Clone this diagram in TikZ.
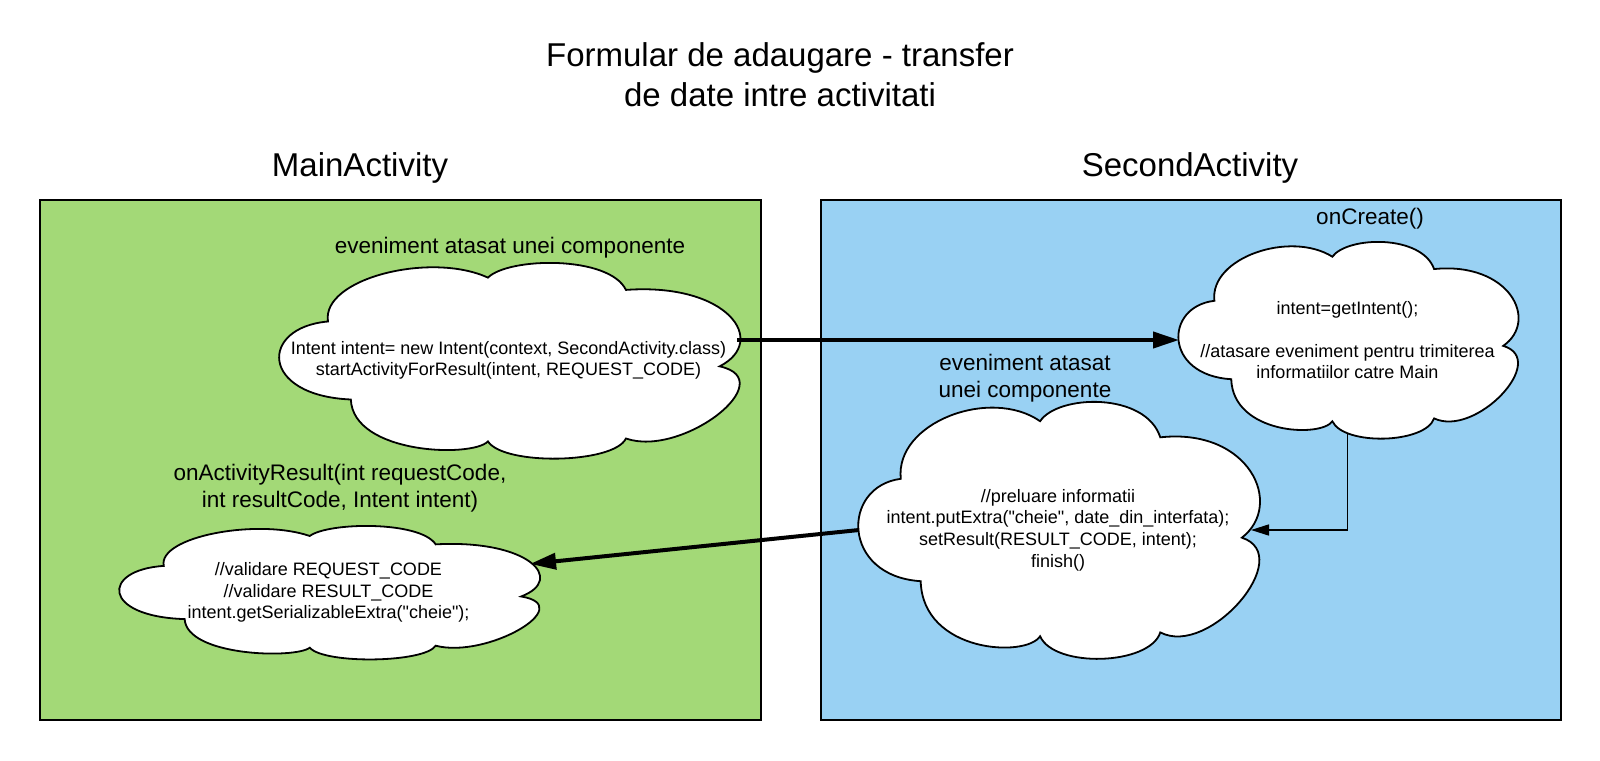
\documentclass[tikz,border=0pt]{standalone}
\usepackage{fontspec}
\setmainfont{Liberation Sans}
\usetikzlibrary{arrows.meta}
\definecolor{maingreen}{HTML}{A3D977}
\definecolor{secondblue}{HTML}{99D1F3}

% cloud outline with seven puffs, sized by the node box
\makeatletter
\newdimen\cldx \newdimen\cldy \newdimen\cldw \newdimen\cldh
\def\cldpt#1#2{\pgfpoint{\cldx+(#1)*\cldw}{\cldy+(1-(#2))*\cldh}}
\pgfdeclareshape{puffcloud}{
  \inheritsavedanchors[from=rectangle]
  \inheritanchorborder[from=rectangle]
  \inheritanchor[from=rectangle]{center}
  \inheritanchor[from=rectangle]{north}
  \inheritanchor[from=rectangle]{south}
  \inheritanchor[from=rectangle]{east}
  \inheritanchor[from=rectangle]{west}
  \inheritanchor[from=rectangle]{north east}
  \inheritanchor[from=rectangle]{north west}
  \inheritanchor[from=rectangle]{south east}
  \inheritanchor[from=rectangle]{south west}
  \backgroundpath{%
    \southwest \cldx=\pgf@x \cldy=\pgf@y
    \northeast \cldw=\pgf@x \cldh=\pgf@y
    \advance\cldw by -\cldx
    \advance\cldh by -\cldy
    \pgfpathmoveto{\cldpt{0.155}{0.70}}
    \pgfpathcurveto{\cldpt{-0.045}{0.68}}{\cldpt{-0.045}{0.33}}{\cldpt{0.105}{0.30}}
    \pgfpathcurveto{\cldpt{0.09}{0.08}}{\cldpt{0.33}{-0.06}}{\cldpt{0.455}{0.075}}
    \pgfpathcurveto{\cldpt{0.50}{-0.03}}{\cldpt{0.72}{-0.04}}{\cldpt{0.757}{0.138}}
    \pgfpathcurveto{\cldpt{0.98}{0.10}}{\cldpt{1.07}{0.40}}{\cldpt{0.962}{0.53}}
    \pgfpathcurveto{\cldpt{1.10}{0.60}}{\cldpt{0.88}{1.00}}{\cldpt{0.757}{0.90}}
    \pgfpathcurveto{\cldpt{0.73}{1.03}}{\cldpt{0.49}{1.04}}{\cldpt{0.455}{0.915}}
    \pgfpathcurveto{\cldpt{0.42}{1.00}}{\cldpt{0.16}{0.98}}{\cldpt{0.155}{0.70}}
    \pgfpathclose
  }
}
\makeatother

\begin{document}
\begin{tikzpicture}[x=1pt,y=-1pt,
    actbox/.style={draw, line width=2pt, anchor=north west, inner sep=0pt},
    puffbox/.style={shape=puffcloud, draw, line width=1.8pt, fill=white, outer sep=0pt,
        inner sep=0pt, align=center, font=\fontsize{18}{21.6}\selectfont},
    bigtitle/.style={font=\fontsize{33}{40}\selectfont, align=center},
    sublabel/.style={font=\fontsize{22.5}{27.5}\selectfont, align=center},
    thickarrow/.style={line width=4pt, -{Triangle[length=26pt,width=16pt]}},
    thinarrow/.style={line width=1.6pt, -{Triangle[length=18pt,width=11pt]}}]
    \useasboundingbox (0,0) rectangle (1600,760);

    % Title
    \node[bigtitle] (title) at (780,75) {Formular de adaugare - transfer\\de date intre activitati};

    % The two activities
    \node[actbox, fill=maingreen, minimum width=721pt, minimum height=520pt] (mainbox) at (39,199) {};
    \node[actbox, fill=secondblue, minimum width=740pt, minimum height=520pt] (secondbox) at (820,199) {};
    \node[bigtitle] (mainlabel) at (360,168) {MainActivity};
    \node[bigtitle] (secondlabel) at (1190,168) {SecondActivity};

    % MainActivity side
    \node[sublabel] (evlabel) at (510,248) {eveniment atasat unei componente};
    \node[puffbox, minimum width=457pt, minimum height=195pt] (cintent) at (508.5,360.5)
        {Intent intent= new Intent(context, SecondActivity.class)\\startActivityForResult(intent, REQUEST\_CODE)};
    \node[sublabel] (resultlabel) at (340,488) {onActivityResult(int requestCode,\\int resultCode, Intent intent)};
    \node[puffbox, minimum width=417pt, minimum height=133pt] (cresult) at (328.5,592.5)
        {//validare REQUEST\_CODE\\//validare RESULT\_CODE\\intent.getSerializableExtra(\textquotedbl cheie\textquotedbl);};

    % SecondActivity side
    \node[sublabel] (createlabel) at (1370,219) {onCreate()};
    \node[puffbox, minimum width=337pt, minimum height=196pt] (ccreate) at (1347.5,340)
        {intent=getIntent();\\ \\//atasare eveniment pentru trimiterea\\informatiilor catre Main};
    \node[sublabel] (ev2label) at (1025,378) {eveniment atasat\\unei componente};
    \node[puffbox, minimum width=398pt, minimum height=256pt] (cextra) at (1058,530)
        {//preluare informatii\\intent.putExtra(\textquotedbl cheie\textquotedbl, date\_din\_interfata);\\setResult(RESULT\_CODE, intent);\\finish()};

    % Connectors
    \draw[thickarrow] (cintent.east |- ccreate.west) -- (ccreate.west);
    \draw[thinarrow, shorten <=-5pt, shorten >=-6pt] (ccreate.south) |- (cextra.east);
    \draw[thickarrow, shorten >=-7pt] (cextra.west) -- (cresult.8);

\end{tikzpicture}
\end{document}
